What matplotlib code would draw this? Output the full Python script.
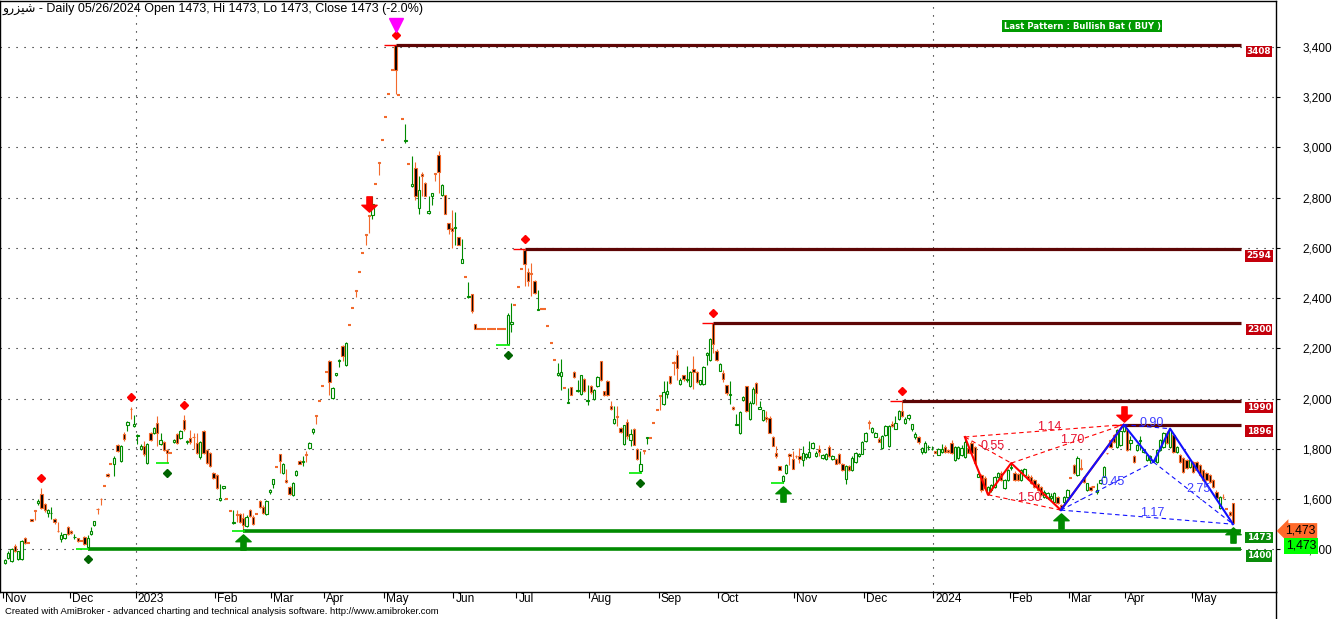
import numpy as np
import matplotlib
matplotlib.use("Agg")
import matplotlib.pyplot as plt
import matplotlib.transforms as mtransforms
from matplotlib.path import Path
from matplotlib.lines import Line2D

plt.rcParams['font.family'] = ['Liberation Sans', 'DejaVu Sans']

# daily bars (oldest first)
opens = [1345, 1365, 1355, 1415, 1362, 1362, 1444, 1424, 1520, 1556, 1585, 1620, 1580, 1545, 1544, 1520, 1474, 1440, 1444, 1488,
         1472, 1447, 1444, 1432, 1448, 1408, 1460, 1496, 1562, 1602, 1650, 1700, 1738, 1738, 1815, 1750, 1858, 1895, 1960, 1890,
         1852, 1800, 1810, 1742, 1862, 1862, 1902, 1818, 1826, 1794, 1782, 1826, 1858, 1842, 1914, 1826, 1842, 1848, 1822, 1766,
         1870, 1794, 1782, 1703, 1695, 1595, 1643, 1600, 1551, 1504, 1540, 1540, 1523, 1492, 1557, 1530, 1541, 1593, 1570, 1539,
         1627, 1660, 1728, 1779, 1705, 1675, 1647, 1617, 1697, 1750, 1748, 1778, 1802, 1866, 1935, 1990, 2051, 2106, 2149, 2001,
         2092, 2149, 2209, 2133, 2293, 2361, 2431, 2504, 2579, 2653, 2730, 2730, 2853, 2940, 3030, 3120, 3211, 3307, 3406, 3207,
         3112, 3025, 2933, 2845, 2918, 2757, 2892, 2857, 2737, 2808, 2899, 2969, 2811, 2811, 2697, 2677, 2680, 2644, 2540, 2482,
         2404, 2415, 2295, 2278, 2278, 2278, 2278, 2278, 2278, 2278, 2278, 2278, 2219, 2297, 2373, 2445, 2516, 2591, 2504, 2500,
         2467, 2354, 2357, 2357, 2289, 2222, 2154, 2092, 2089, 2043, 1983, 2047, 2106, 2030, 2019, 2078, 1990, 2049, 1999, 2049,
         2149, 2029, 2069, 1972, 1903, 1930, 1883, 1820, 1907, 1834, 1879, 1800, 1711, 1797, 1842, 1844, 1901, 1956, 2013, 1979,
         2020, 2089, 2145, 2173, 2059, 2092, 2074, 2049, 2118, 2105, 2056, 2057, 2173, 2153, 2300, 2190, 2111, 2101, 2053, 2015,
         1967, 1895, 1864, 1995, 2048, 1917, 1984, 2061, 1960, 1913, 1925, 1924, 1848, 1784, 1730, 1671, 1704, 1781, 1760, 1773,
         1773, 1757, 1767, 1768, 1804, 1771, 1800, 1764, 1761, 1808, 1760, 1760, 1780, 1741, 1680, 1731, 1717, 1748, 1771, 1781,
         1831, 1907, 1867, 1847, 1840, 1804, 1853, 1811, 1900, 1880, 1917, 1951, 1901, 1923, 1880, 1848, 1847, 1787, 1787, 1806,
         1799, 1791, 1777, 1787, 1808, 1797, 1825, 1756, 1763, 1776, 1769, 1803, 1823, 1809, 1689, 1696, 1683, 1620, 1636, 1649,
         1689, 1703, 1643, 1676, 1725, 1703, 1699, 1676, 1696, 1692, 1689, 1676, 1660, 1649, 1609, 1603, 1605, 1589, 1609, 1575,
         1589, 1609, 1683, 1736, 1696, 1722, 1689, 1636, 1649, 1647, 1630, 1663, 1689, 1785, 1836, 1856, 1809, 1816, 1869, 1876,
         1825, 1772, 1796, 1830, 1789, 1756, 1756, 1752, 1749, 1796, 1809, 1863, 1809, 1856, 1789, 1776, 1763, 1756, 1729, 1749,
         1749, 1736, 1716, 1703, 1696, 1676, 1629, 1563, 1609, 1563, 1549, 1583, 1473]
highs = [1360, 1392, 1405, 1420, 1395, 1435, 1450, 1424, 1522, 1558, 1600, 1644, 1585, 1560, 1570, 1524, 1508, 1470, 1462, 1494,
         1476, 1460, 1446, 1432, 1452, 1456, 1490, 1514, 1564, 1604, 1650, 1702, 1738, 1770, 1818, 1815, 1865, 1910, 1968, 1935,
         1860, 1820, 1830, 1824, 1866, 1885, 1930, 1862, 1830, 1798, 1782, 1840, 1862, 1876, 1934, 1836, 1874, 1862, 1864, 1830,
         1874, 1798, 1786, 1706, 1698, 1660, 1652, 1600, 1551, 1555, 1557, 1544, 1543, 1535, 1560, 1535, 1541, 1596, 1575, 1598,
         1640, 1680, 1728, 1780, 1745, 1718, 1650, 1668, 1715, 1754, 1772, 1792, 1826, 1884, 1935, 1990, 2051, 2108, 2155, 2045,
         2102, 2158, 2215, 2226, 2293, 2361, 2431, 2504, 2579, 2653, 2730, 2808, 2853, 2940, 3030, 3120, 3211, 3307, 3408, 3207,
         3112, 3093, 2933, 2966, 2940, 2886, 2900, 2862, 2808, 2820, 2899, 2985, 2853, 2811, 2697, 2750, 2743, 2644, 2636, 2482,
         2465, 2415, 2295, 2278, 2278, 2278, 2278, 2278, 2278, 2278, 2278, 2278, 2341, 2381, 2373, 2445, 2516, 2594, 2520, 2540,
         2470, 2434, 2357, 2357, 2289, 2222, 2154, 2142, 2158, 2043, 2041, 2047, 2110, 2072, 2095, 2082, 2052, 2052, 2040, 2090,
         2150, 2032, 2072, 1990, 1972, 1970, 1886, 1896, 1917, 1880, 1882, 1803, 1790, 1797, 1846, 1844, 1901, 1956, 2013, 2069,
         2069, 2089, 2150, 2195, 2080, 2095, 2129, 2110, 2170, 2108, 2075, 2128, 2184, 2240, 2300, 2196, 2140, 2115, 2055, 2071,
         1970, 1937, 1952, 2012, 2050, 1990, 2044, 2064, 1989, 1956, 1950, 1930, 1852, 1810, 1730, 1695, 1740, 1783, 1792, 1775,
         1805, 1810, 1785, 1830, 1828, 1790, 1817, 1780, 1785, 1815, 1776, 1762, 1784, 1745, 1735, 1735, 1770, 1788, 1784, 1830,
         1868, 1915, 1888, 1868, 1848, 1855, 1895, 1895, 1910, 1930, 1955, 1990, 1925, 1940, 1900, 1865, 1850, 1808, 1830, 1815,
         1812, 1793, 1805, 1820, 1815, 1800, 1835, 1812, 1812, 1815, 1847, 1808, 1830, 1812, 1702, 1700, 1690, 1652, 1660, 1692,
         1706, 1710, 1680, 1720, 1743, 1712, 1705, 1720, 1722, 1698, 1695, 1680, 1665, 1652, 1635, 1628, 1625, 1628, 1612, 1582,
         1612, 1640, 1683, 1740, 1770, 1760, 1692, 1665, 1652, 1647, 1662, 1680, 1730, 1785, 1840, 1860, 1880, 1872, 1896, 1880,
         1850, 1775, 1820, 1850, 1800, 1780, 1775, 1760, 1800, 1840, 1866, 1870, 1880, 1860, 1812, 1780, 1768, 1760, 1760, 1752,
         1752, 1740, 1720, 1708, 1700, 1680, 1635, 1612, 1622, 1565, 1552, 1583, 1473]
lows = [1340, 1362, 1350, 1390, 1358, 1358, 1420, 1424, 1512, 1516, 1575, 1560, 1550, 1530, 1520, 1500, 1470, 1430, 1440, 1455,
        1460, 1440, 1428, 1432, 1416, 1400, 1455, 1494, 1540, 1575, 1650, 1688, 1738, 1690, 1786, 1748, 1830, 1870, 1920, 1885,
        1820, 1795, 1770, 1738, 1830, 1858, 1810, 1815, 1790, 1745, 1782, 1822, 1818, 1840, 1870, 1820, 1820, 1798, 1780, 1760,
        1778, 1738, 1726, 1680, 1640, 1592, 1640, 1600, 1551, 1500, 1508, 1505, 1473, 1488, 1530, 1495, 1541, 1565, 1540, 1535,
        1620, 1642, 1728, 1705, 1700, 1665, 1615, 1612, 1690, 1738, 1732, 1748, 1798, 1860, 1900, 1990, 2051, 2104, 2014, 1998,
        2088, 2125, 2150, 2130, 2293, 2361, 2404, 2504, 2579, 2610, 2660, 2716, 2853, 2888, 3030, 3120, 3211, 3307, 3211, 3207,
        3112, 3018, 2933, 2843, 2790, 2734, 2808, 2805, 2734, 2770, 2864, 2820, 2808, 2734, 2655, 2600, 2613, 2610, 2539, 2482,
        2400, 2340, 2276, 2278, 2278, 2278, 2278, 2278, 2278, 2278, 2278, 2278, 2214, 2264, 2373, 2445, 2516, 2447, 2447, 2410,
        2415, 2354, 2357, 2357, 2289, 2222, 2154, 2090, 2036, 2043, 1983, 2013, 2080, 2025, 2015, 2025, 1974, 2020, 1995, 2045,
        2070, 2010, 2010, 1955, 1900, 1890, 1864, 1815, 1840, 1810, 1815, 1756, 1705, 1778, 1820, 1844, 1901, 1956, 1956, 1975,
        2003, 2056, 2095, 2075, 2055, 2070, 2065, 2045, 2040, 2060, 2054, 2055, 2135, 2150, 2180, 2150, 2108, 2065, 2013, 1977,
        1955, 1893, 1860, 1990, 1948, 1914, 1980, 1975, 1960, 1910, 1905, 1862, 1810, 1765, 1715, 1664, 1700, 1735, 1718, 1765,
        1745, 1730, 1760, 1765, 1800, 1768, 1770, 1760, 1755, 1768, 1755, 1738, 1740, 1710, 1660, 1712, 1712, 1745, 1768, 1778,
        1828, 1880, 1864, 1845, 1826, 1800, 1850, 1808, 1888, 1878, 1915, 1928, 1898, 1915, 1870, 1840, 1820, 1780, 1785, 1795,
        1795, 1782, 1774, 1785, 1785, 1785, 1780, 1752, 1760, 1770, 1765, 1782, 1780, 1740, 1686, 1630, 1640, 1617, 1630, 1645,
        1685, 1672, 1640, 1672, 1715, 1672, 1672, 1672, 1690, 1675, 1660, 1645, 1632, 1612, 1605, 1600, 1598, 1585, 1580, 1556,
        1580, 1605, 1683, 1700, 1690, 1715, 1665, 1632, 1632, 1647, 1620, 1660, 1686, 1780, 1805, 1825, 1805, 1812, 1866, 1790,
        1795, 1745, 1790, 1795, 1785, 1752, 1745, 1747, 1745, 1792, 1805, 1820, 1805, 1785, 1785, 1745, 1705, 1720, 1725, 1705,
        1712, 1690, 1672, 1672, 1665, 1645, 1600, 1560, 1600, 1560, 1534, 1500, 1473]
closes = [1356, 1385, 1400, 1395, 1392, 1432, 1424, 1424, 1514, 1552, 1592, 1565, 1555, 1555, 1546, 1508, 1472, 1456, 1460, 1460,
          1464, 1449, 1432, 1432, 1420, 1444, 1472, 1512, 1560, 1600, 1650, 1690, 1738, 1762, 1790, 1810, 1838, 1905, 1958, 1898,
          1856, 1810, 1778, 1818, 1834, 1882, 1862, 1834, 1794, 1782, 1782, 1834, 1822, 1870, 1878, 1832, 1826, 1845, 1782, 1826,
          1782, 1742, 1730, 1683, 1643, 1603, 1650, 1600, 1551, 1510, 1536, 1507, 1496, 1530, 1533, 1500, 1541, 1570, 1546, 1593,
          1635, 1678, 1728, 1752, 1740, 1667, 1620, 1665, 1712, 1741, 1752, 1775, 1823, 1880, 1930, 1990, 2051, 2106, 2065, 2041,
          2100, 2155, 2169, 2223, 2293, 2361, 2428, 2504, 2579, 2650, 2726, 2774, 2853, 2936, 3030, 3120, 3211, 3307, 3308, 3207,
          3112, 3030, 2933, 2855, 2808, 2830, 2884, 2808, 2745, 2817, 2895, 2902, 2850, 2736, 2673, 2666, 2682, 2612, 2556, 2482,
          2407, 2348, 2278, 2278, 2278, 2278, 2278, 2278, 2278, 2278, 2278, 2278, 2331, 2305, 2373, 2445, 2516, 2536, 2467, 2494,
          2421, 2357, 2357, 2357, 2289, 2222, 2154, 2100, 2106, 2043, 1986, 2015, 2086, 2033, 2092, 2029, 1996, 2025, 2036, 2086,
          2072, 2013, 2013, 1959, 1919, 1927, 1867, 1893, 1850, 1857, 1817, 1760, 1740, 1790, 1845, 1844, 1901, 1956, 2010, 2027,
          2029, 2060, 2140, 2120, 2072, 2076, 2077, 2105, 2105, 2065, 2072, 2124, 2181, 2237, 2217, 2153, 2137, 2077, 2024, 2017,
          1957, 1900, 1948, 2008, 1951, 1984, 2040, 2024, 1967, 1953, 1920, 1864, 1813, 1773, 1717, 1693, 1737, 1773, 1720, 1771,
          1761, 1784, 1781, 1787, 1824, 1784, 1787, 1777, 1781, 1771, 1773, 1741, 1744, 1717, 1731, 1717, 1764, 1784, 1781, 1828,
          1864, 1903, 1884, 1864, 1828, 1851, 1891, 1891, 1891, 1904, 1951, 1931, 1920, 1933, 1897, 1860, 1827, 1804, 1824, 1808,
          1801, 1784, 1801, 1800, 1787, 1787, 1783, 1809, 1809, 1803, 1829, 1785, 1783, 1743, 1699, 1636, 1643, 1649, 1656, 1689,
          1703, 1676, 1676, 1716, 1729, 1676, 1676, 1716, 1719, 1679, 1663, 1649, 1636, 1616, 1629, 1623, 1612, 1623, 1585, 1566,
          1609, 1636, 1683, 1703, 1763, 1719, 1669, 1663, 1636, 1647, 1636, 1676, 1727, 1783, 1809, 1829, 1876, 1869, 1889, 1796,
          1836, 1749, 1816, 1836, 1796, 1776, 1772, 1756, 1796, 1836, 1863, 1823, 1876, 1789, 1809, 1749, 1709, 1723, 1756, 1709,
          1716, 1696, 1676, 1676, 1669, 1649, 1603, 1609, 1607, 1562, 1536, 1503, 1473]

# first bar of each month and its label
month_start = [0, 20, 40, 64, 81, 97, 115, 136, 155, 177, 198, 216, 239, 260, 281, 304, 322, 339, 359]
month_names = ['Nov', 'Dec', '2023', 'Feb', 'Mar', 'Apr', 'May', 'Jun', 'Jul', 'Aug', 'Sep', 'Oct',
               'Nov', 'Dec', '2024', 'Feb', 'Mar', 'Apr', 'May']

# swing points (bar index)
pivot_hi = [11, 38, 54, 118, 157, 214, 271]
pivot_lo = [25, 49, 152, 192]
lo_marks = [25, 49, 72, 152, 192, 235]
buy_bars = [72, 235, 319, 371]
sell_bars = [110, 338]

# resistance / support levels and the bar they start from
res_levels = [3408, 2594, 2300, 1990, 1896]
res_start = [118, 157, 214, 271, 338]
sup_levels = [1473, 1400]
sup_start = [72, 25]

# harmonic patterns X, A, B, C, D (bar index, price); ratios for XB, AC, XD, BD
red_px = [290, 297, 304, 319, 338]
red_py = [1847, 1617, 1743, 1556, 1896]
red_ratios = ['0.55', '1.50', '1.14', '1.70']
blue_px = [319, 338, 347, 352, 371]
blue_py = [1556, 1896, 1747, 1880, 1500]
blue_ratios = ['0.45', '0.90', '1.17', '2.75']

o = np.array(opens, float)
h = np.array(highs, float)
l = np.array(lows, float)
c = np.array(closes, float)
n = len(c)
x = np.arange(n)

GREEN = '#008a00'
ORANGE = '#f26a2c'
MAROON = '#5e0505'

fig = plt.figure(figsize=(13.36, 6.19), dpi=100)
ax = fig.add_axes([0.0, 27 / 619, 1276 / 1336, 1 - 27 / 619 - 0.6 / 619])
ax.set_xlim(-1.5, 384)
ax.set_ylim(1230, 3584)

# dotted grid
for lev in range(1400, 3401, 200):
    ax.axhline(lev, color='black', lw=0.8, ls=(0, (1, 6.2)), zorder=0)
for i, name in zip(month_start, month_names):
    if name.isdigit():
        ax.axvline(i - 0.5, color='black', lw=0.8, ls=(0, (1, 6.2)), zorder=0)

# candles
up = c > o
flat = np.abs(c - o) < 2
wick_col = np.where(up, GREEN, ORANGE)
ax.vlines(x, l, h, colors=wick_col, lw=0.8, zorder=2)
body = ~flat
ax.bar(x[body], np.abs(c - o)[body], bottom=np.minimum(o, c)[body], width=0.7,
       color=np.where(up, 'white', 'black')[body], edgecolor=wick_col[body], linewidth=0.8, zorder=3)
ax.hlines(c[flat], x[flat] - 0.45, x[flat] + 0.45, colors=np.where(up, GREEN, ORANGE)[flat], lw=1.5, zorder=3)

# support / resistance lines
x_end = 373.3
for lev, s in zip(res_levels, res_start):
    ax.hlines(lev, s, x_end, color=MAROON, lw=2.3, zorder=4)
    ax.hlines(lev, s - 3.5, s, color='red', lw=1, zorder=4)
for lev, s in zip(sup_levels, sup_start):
    ax.hlines(lev, s, x_end, color=GREEN, lw=2.6, zorder=4)
for i in lo_marks:
    ax.hlines(l[i], i - 3.5, i + 0.5, color='#00ee00', lw=1.2, zorder=4)

# level tags at the right end of the lines
tag_tr = mtransforms.blended_transform_factory(ax.transAxes, ax.transData)
for lev in res_levels:
    ax.annotate(str(lev), xy=(1259 / 1276, lev), xycoords=tag_tr, xytext=(0, -2), textcoords='offset pixels',
                ha='center', va='top', color='white', fontsize=6.4, fontweight='bold', family='DejaVu Sans',
                bbox=dict(boxstyle='square,pad=0.14', fc='#c4000c', ec='none'), zorder=6)
for lev in sup_levels:
    ax.annotate(str(lev), xy=(1259 / 1276, lev), xycoords=tag_tr, xytext=(0, -2), textcoords='offset pixels',
                ha='center', va='top', color='white', fontsize=6.4, fontweight='bold', family='DejaVu Sans',
                bbox=dict(boxstyle='square,pad=0.14', fc='#0a8c0a', ec='none'), zorder=6)

# pivot markers
def shifted(dy):
    return mtransforms.offset_copy(ax.transData, fig=fig, x=0, y=dy, units='dots')

ax.plot(pivot_hi, h[pivot_hi], ls='none', marker='D', ms=4.5, color='red', transform=shifted(10), zorder=5)
ax.plot(pivot_lo, l[pivot_lo], ls='none', marker='D', ms=4.5, color='#006400', transform=shifted(-10), zorder=5)
ax.plot([118], [h[118]], ls='none', marker='v', ms=10, color='#ff00ff', transform=shifted(20), zorder=5)

arrow_up = Path([(-0.5, 0.05), (0, 0.5), (0.5, 0.05), (0.17, 0.05), (0.17, -0.5), (-0.17, -0.5), (-0.17, 0.05), (-0.5, 0.05)],
                [Path.MOVETO] + [Path.LINETO] * 6 + [Path.CLOSEPOLY])
arrow_dn = Path([(px, -py) for px, py in arrow_up.vertices], arrow_up.codes)
ax.plot(buy_bars, l[buy_bars], ls='none', marker=arrow_up, ms=11, color=GREEN, transform=shifted(-11), zorder=6)
ax.plot(sell_bars, h[sell_bars], ls='none', marker=arrow_dn, ms=11, color='red', transform=shifted(11), zorder=6)

# harmonic patterns
def pattern(px, py, col, lab_col, ratios):
    ax.plot(px, py, color=col, lw=1.5, zorder=5)
    pairs = [(0, 2), (1, 3), (0, 4), (2, 4)]
    for (a, b), r in zip(pairs, ratios):
        ax.plot([px[a], px[b]], [py[a], py[b]], color=col, lw=0.8, ls=(0, (4, 3)), zorder=5)
        ax.annotate(r, xy=((px[a] + px[b]) / 2, (py[a] + py[b]) / 2), xytext=(5, 4), textcoords='offset pixels',
                    ha='center', va='center', color=lab_col, fontsize=9, zorder=6)

pattern(red_px, red_py, 'red', '#e8102e', red_ratios)
pattern(blue_px, blue_py, '#1010ff', '#3c3cff', blue_ratios)

# last price tags
ax.annotate('1,473', xy=(1.0, c[-1]), xycoords=tag_tr, xytext=(9, 0), textcoords='offset pixels',
            ha='left', va='center', fontsize=8.8, color='black', annotation_clip=False,
            bbox=dict(boxstyle='larrow,pad=0.15', fc='#ff6a2a', ec='none'), zorder=7)
ax.annotate('1,473', xy=(1.0, c[-1]), xycoords=tag_tr, xytext=(10, -15), textcoords='offset pixels',
            ha='left', va='center', fontsize=8.8, color='black', annotation_clip=False,
            bbox=dict(boxstyle='square,pad=0.15', fc='#00ff00', ec='none'), zorder=7)

# axes
for side in ['left', 'top', 'right', 'bottom']:
    ax.spines[side].set_linewidth(1.0)
ax.yaxis.tick_right()
ax.set_yticks(range(1400, 3401, 200))
ax.set_yticklabels([f'{v:,}' for v in range(1400, 3401, 200)], fontsize=8.5)
ax.tick_params(axis='y', length=3, width=0.8, pad=16)
ax.set_xticks([i - 0.5 for i in month_start])
ax.set_xticklabels(month_names, fontsize=8.6, ha='left')
ax.tick_params(axis='x', length=4.5, width=0.8, pad=-4)
shift = mtransforms.ScaledTranslation(2 / 100, 0, fig.dpi_scale_trans)
for lab in ax.get_xticklabels():
    lab.set_transform(lab.get_transform() + shift)

# right axis line runs on below the plot
fig.add_artist(Line2D([1276 / 1336, 1276 / 1336], [0.0, 27 / 619], color='black', lw=1.0))

# texts
fig.text(3 / 1336, 1 - 9 / 619,
         '\ufeed\ufead\ufeb0\ufbff\ufeb7 - Daily 05/26/2024 Open 1473, Hi 1473, Lo 1473, Close 1473 (-2.0%)',
         ha='left', va='center', fontsize=9, color='black')
fig.text(1082 / 1336, 1 - 26 / 619, 'Last Pattern : Bullish Bat ( BUY )', ha='center', va='center',
         fontsize=6.1, fontweight='bold', color='white', family='DejaVu Sans',
         bbox=dict(boxstyle='square,pad=0.2', fc='#009a00', ec='none'))
fig.text(5 / 1336, 1 - 612 / 619,
         'Created with AmiBroker - advanced charting and technical analysis software. http://www.amibroker.com',
         ha='left', va='center', fontsize=6.8, color='black')

fig.savefig('out.png', dpi=100)
